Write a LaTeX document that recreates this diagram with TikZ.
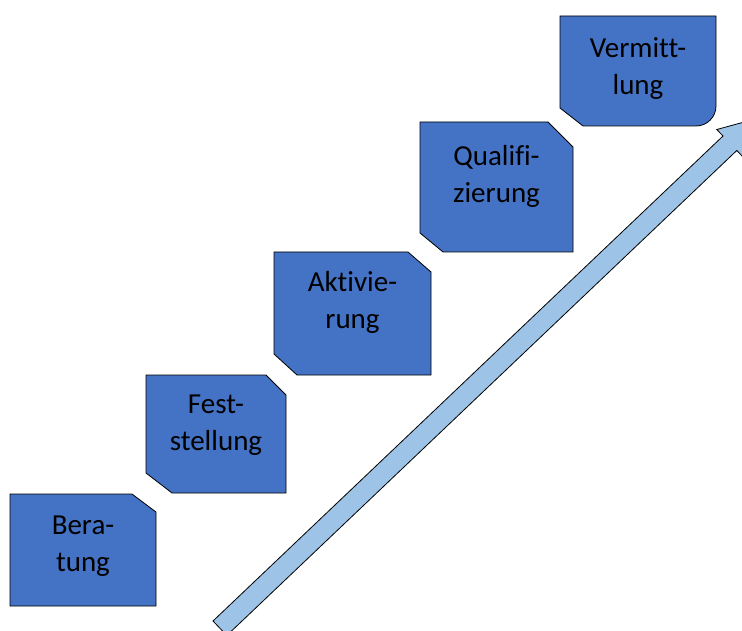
\documentclass[tikz,border=0pt]{standalone}
\usepackage{fontspec}
\setmainfont{Carlito}[Ligatures=NoCommon]
\definecolor{boxblue}{HTML}{4472C4}
\definecolor{arrowblue}{HTML}{9DC3E6}
\newcommand\lstrut{\rule{0pt}{22pt}}
\begin{document}
\begin{tikzpicture}[x=1pt,y=-1pt,
  stepbox/.style={draw=black, line width=0.8pt, fill=boxblue, line join=miter},
  steplabel/.style={align=center, anchor=north, inner sep=0pt, text=black, font=\fontsize{29}{37}\selectfont},
  bigarrow/.style={draw=black, line width=0.8pt, fill=arrowblue, line join=miter}]
\useasboundingbox (0,0) rectangle (742,631);
\clip (0,0) rectangle (742,631);
% arrow
\coordinate (t1) at (213,621);
\coordinate (t2) at (226.8,635.5);
\coordinate (n1) at (723,136);
\coordinate (n2) at (736.8,150.5);
\coordinate (b1) at (716.8,129.5);
\coordinate (b2) at (743,157);
\coordinate (tip) at (755.2,119.0);
\draw[bigarrow] (t1) -- (n1) -- (b1) -- (tip) -- (b2) -- (n2) -- (t2) -- cycle;
% boxes
\draw[stepbox] (10,494) -- (132,494) -- (156,512) -- (156,606) -- (10,606) -- cycle;
\draw[stepbox] (146,375) -- (266,375) -- (286,395) -- (286,493) -- (172,493) -- (146,473) -- cycle;
\draw[stepbox] (274,252) -- (408,252) -- (431,272) -- (431,375) -- (297,375) -- (274,354) -- cycle;
\draw[stepbox] (420,122) -- (548,122) -- (573,147) -- (573,252) -- (443,252) -- (420,233) -- cycle;
\draw[stepbox] (560,16) -- (716,16) -- (716,106) arc[start angle=0, end angle=90, radius=20] -- (583,126) -- (560,108) -- cycle;
% labels
\node[steplabel] (beratung) at (83,512) {\lstrut Bera-\\tung};
\node[steplabel] (feststellung) at (216,391) {\lstrut Fest-\\stellung};
\node[steplabel] (aktivierung) at (352.5,269) {\lstrut Aktivie-\\rung};
\node[steplabel] (qualifizierung) at (496.5,143) {\lstrut Qualifi-\\zierung};
\node[steplabel] (vermittlung) at (638,35) {\lstrut Vermitt-\\lung};
\end{tikzpicture}
\end{document}
